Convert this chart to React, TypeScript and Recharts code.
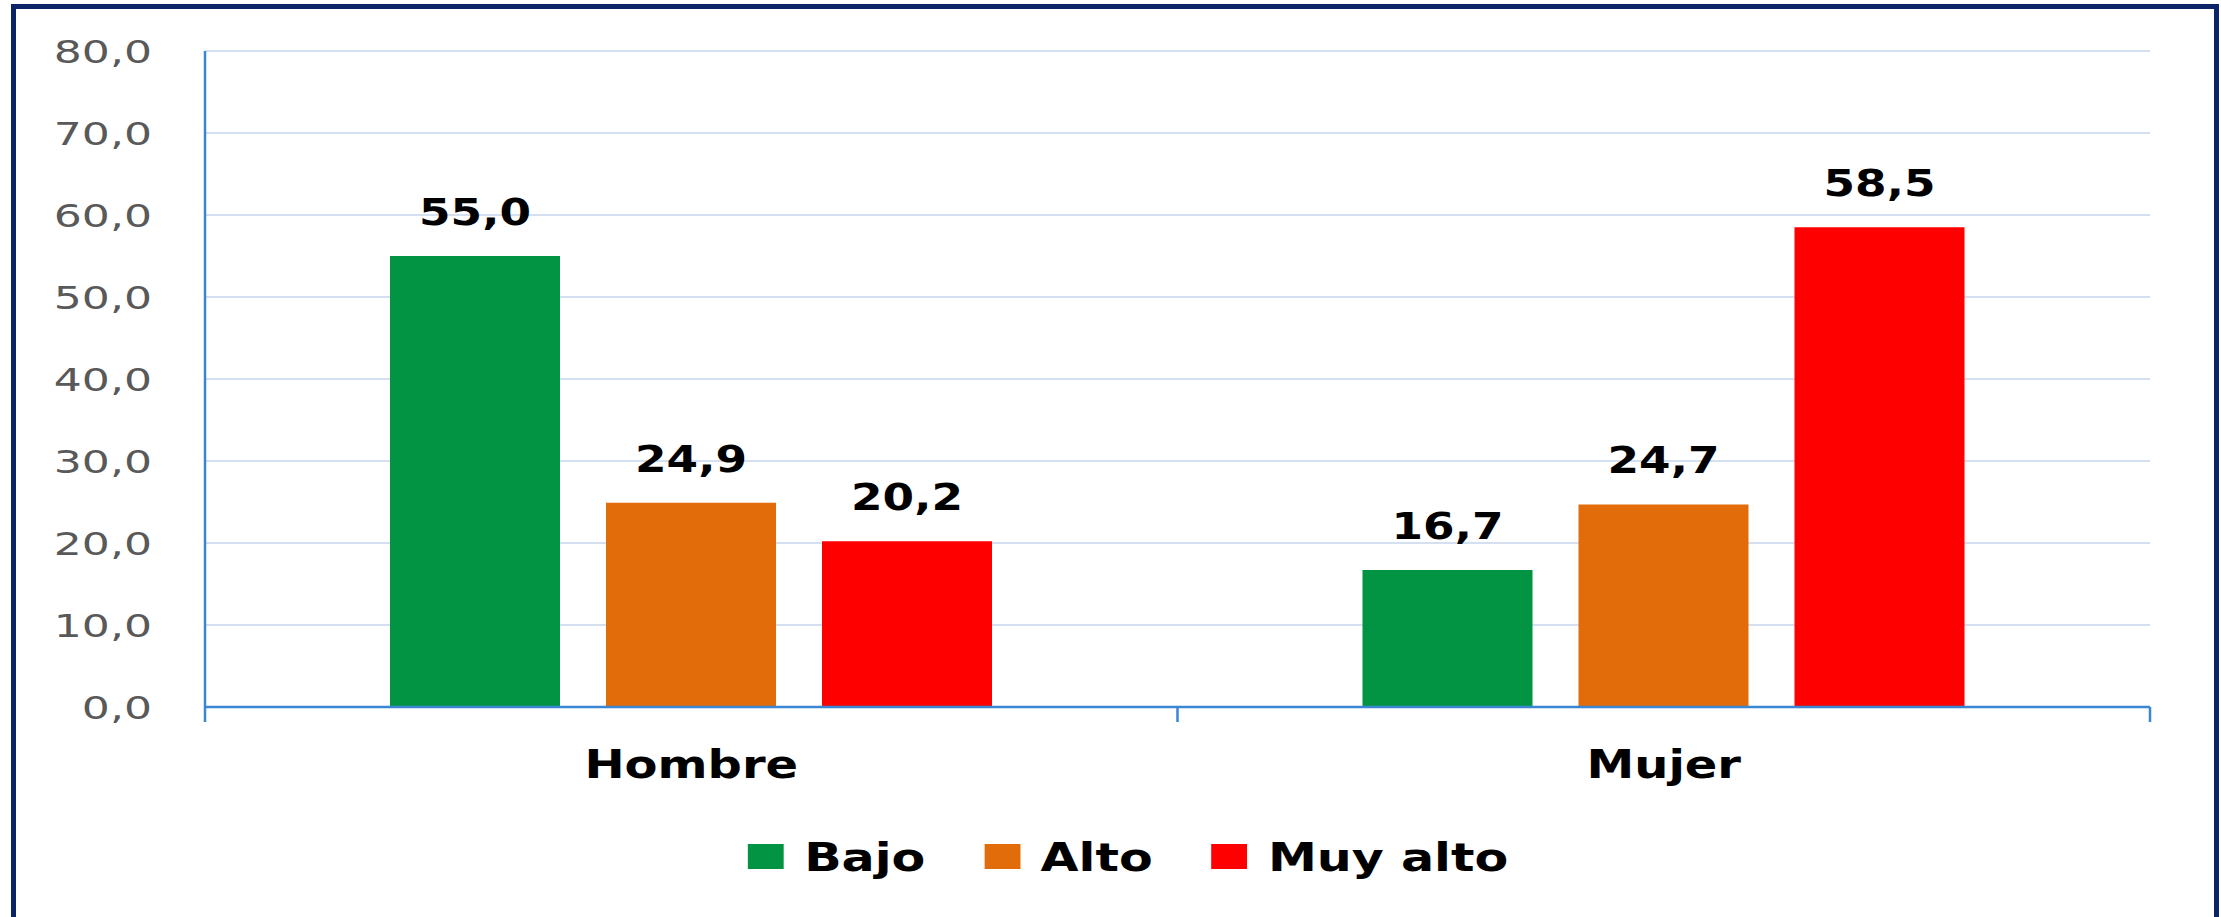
import React from 'react';
import { BarChart, Bar, XAxis, YAxis, CartesianGrid, LabelList, Legend } from 'recharts';

const categories = ['Hombre', 'Mujer'];
const bajo = [55.0, 16.7];
const alto = [24.9, 24.7];
const muyAlto = [20.2, 58.5];
const yTicks = [0, 10, 20, 30, 40, 50, 60, 70, 80];
const seriesNames = ['Bajo', 'Alto', 'Muy alto'];
const seriesColors = ['#039443', '#e36c0a', '#ff0000'];

const data = categories.map((c, i) => ({ name: c, bajo: bajo[i], alto: alto[i], muyAlto: muyAlto[i] }));

const W = 2221;
const H = 917;
const M = { top: 51, right: 71, left: 0, bottom: 150 };
const Y_AXIS_W = 205;
const BAND = (W - Y_AXIS_W - M.right) / categories.length;
const FONT = "'DejaVu Sans', sans-serif";
const AXIS_BLUE = '#3a86d2';

const fmt = (v: number) => v.toFixed(1).replace('.', ',');

const YTick = (props: any) => {
  const { x, y, payload } = props;
  return (
    <g transform={`translate(${x - 53},${y + 11.5})`}>
      <text transform="scale(1.4,1)" textAnchor="end" fontFamily={FONT} fontSize={31.5} fill="#595959">
        {fmt(payload.value)}
      </text>
    </g>
  );
};

const XTick = (props: any) => {
  const { x, y, payload, index } = props;
  const half = BAND / 2;
  return (
    <g>
      <line x1={x - half} x2={x - half} y1={y} y2={y + 15} stroke={AXIS_BLUE} strokeWidth={2.5} />
      {index === categories.length - 1 && (
        <line x1={x + half} x2={x + half} y1={y} y2={y + 15} stroke={AXIS_BLUE} strokeWidth={2.5} />
      )}
      <g transform={`translate(${x},${y + 71})`}>
        <text transform="scale(1.25,1)" textAnchor="middle" fontFamily={FONT} fontWeight="bold" fontSize={38.4} fill="#000">
          {payload.value}
        </text>
      </g>
    </g>
  );
};

const ValueLabel = (props: any) => {
  const { x, y, width, value } = props;
  return (
    <g transform={`translate(${Number(x) + Number(width) / 2},${Number(y) - 31})`}>
      <text transform="scale(1.24,1)" textAnchor="middle" fontFamily={FONT} fontWeight="bold" fontSize={36.6} fill="#000">
        {fmt(Number(value))}
      </text>
    </g>
  );
};

const LegendContent = (props: any) => {
  const payload = [...(props.payload || [])].sort(
    (a: any, b: any) => seriesNames.indexOf(a.value) - seriesNames.indexOf(b.value)
  );
  return (
    <div style={{ height: 0, overflow: 'visible', position: 'relative' }}>
      <div style={{ position: 'absolute', left: 0, top: 0, width: W, display: 'flex', justifyContent: 'center', paddingLeft: 35, boxSizing: 'border-box' }}>
        <div style={{ display: 'flex', alignItems: 'flex-start', transform: 'scaleX(1.28)', transformOrigin: 'center' }}>
          {payload.map((p: any, i: number) => (
            <div key={i} style={{ display: 'flex', alignItems: 'flex-start', marginRight: i < payload.length - 1 ? 46 : 0 }}>
              <div style={{ width: 28, height: 25, background: p.color, marginRight: 16 }} />
              <span style={{ fontFamily: FONT, fontWeight: 'bold', fontSize: 38.4, lineHeight: '28px', color: '#000', whiteSpace: 'nowrap' }}>
                {p.value}
              </span>
            </div>
          ))}
        </div>
      </div>
    </div>
  );
};

export default function App() {
  return (
    <div style={{ position: 'absolute', left: 0, top: 0, width: W, height: H, overflow: 'hidden', background: '#fff' }}>
      <div style={{ position: 'absolute', left: 11, top: 4, width: 2208, height: 1000, border: '5px solid #0b2467', boxSizing: 'border-box' }} />
      <div style={{ position: 'absolute', left: 0, top: 0 }}>
        <BarChart width={W} height={H} data={data} margin={M} barSize={170} barGap={46}>
          <CartesianGrid vertical={false} stroke="#c6d5ea" strokeWidth={1.5} />
          <XAxis
            dataKey="name"
            height={60}
            tick={<XTick />}
            tickLine={false}
            tickSize={0}
            tickMargin={0}
            axisLine={{ stroke: AXIS_BLUE, strokeWidth: 2.5 }}
            interval={0}
          />
          <YAxis
            width={Y_AXIS_W}
            domain={[0, 80]}
            ticks={yTicks}
            tick={<YTick />}
            tickLine={false}
            tickSize={0}
            tickMargin={0}
            axisLine={{ stroke: AXIS_BLUE, strokeWidth: 2.5 }}
            interval={0}
          />
          <Legend
            verticalAlign="bottom"
            content={<LegendContent />}
            wrapperStyle={{ position: 'absolute', left: 0, top: 844, width: W, margin: 0 }}
          />
          <Bar dataKey="bajo" name={seriesNames[0]} fill={seriesColors[0]} isAnimationActive={false}>
            <LabelList dataKey="bajo" content={<ValueLabel />} />
          </Bar>
          <Bar dataKey="alto" name={seriesNames[1]} fill={seriesColors[1]} isAnimationActive={false}>
            <LabelList dataKey="alto" content={<ValueLabel />} />
          </Bar>
          <Bar dataKey="muyAlto" name={seriesNames[2]} fill={seriesColors[2]} isAnimationActive={false}>
            <LabelList dataKey="muyAlto" content={<ValueLabel />} />
          </Bar>
        </BarChart>
      </div>
    </div>
  );
}
